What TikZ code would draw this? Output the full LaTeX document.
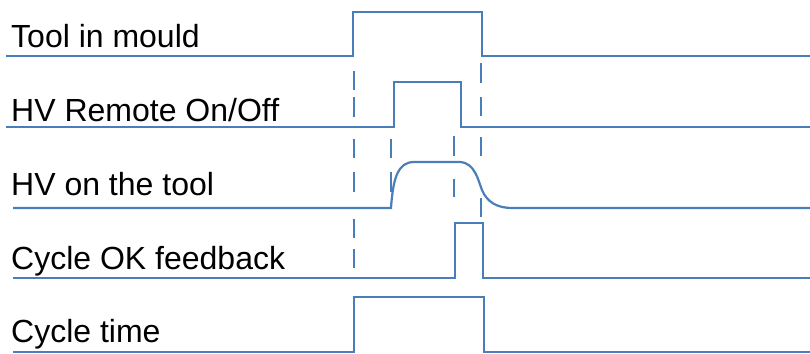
\documentclass[tikz,border=0pt]{standalone}
\usepackage{fontspec}
\setmainfont{Liberation Sans}
\definecolor{sig}{HTML}{4A7EBB}
\tikzset{
  wave/.style={draw=sig, line width=2.2pt, line join=miter},
  guide/.style={draw=sig, line width=2.2pt},
  label/.style={anchor=base west, inner sep=0pt, font=\fontsize{32}{32}\selectfont, text=black}
}
\begin{document}
\begin{tikzpicture}[x=1pt,y=-1pt]
\useasboundingbox (0,0) rectangle (810,353);

% signal names
\node[label] (l1) at (11,48)  {Tool in mould};
\node[label] (l2) at (11,121) {HV Remote On/Off};
\node[label] (l3) at (11,195) {HV on the tool};
\node[label] (l4) at (11,269) {Cycle OK feedback};
\node[label] (l5) at (11,342) {Cycle time};

% waveforms
\draw[wave, line width=2.7pt] (6,56) -- (353,56) -- (353,12) -- (482,12) -- (482,56) -- (810,56);
\draw[wave] (6,127) -- (394,127) -- (394,82) -- (461,82) -- (461,127) -- (810,127);
\draw[wave] (13,208) -- (391,208)
  .. controls (393,178) and (398,162) .. (414,162) -- (460,162)
  .. controls (475,163) and (478,180) .. (482,190)
  .. controls (487,202) and (497,208) .. (512,208) -- (810,208);
\draw[wave] (13,278) -- (455,278) -- (455,223) -- (483,223) -- (483,278) -- (810,278);
\draw[wave] (13,352) -- (354,352) -- (354,297) -- (484,297) -- (484,352) -- (810,352);

% dashed timing markers
\foreach \a/\b in {71/90, 97/117, 139/158, 172/192, 219/238, 249/268}
  \draw[guide] (354,\a) -- (354,\b);
\foreach \a/\b in {139/158, 172/192}
  \draw[guide] (391,\a) -- (391,\b);
\foreach \a/\b in {136/156, 179/197}
  \draw[guide] (454,\a) -- (454,\b);
\foreach \a/\b in {63/83, 97/116, 137/156, 198/217}
  \draw[guide] (481,\a) -- (481,\b);
\end{tikzpicture}
\end{document}
